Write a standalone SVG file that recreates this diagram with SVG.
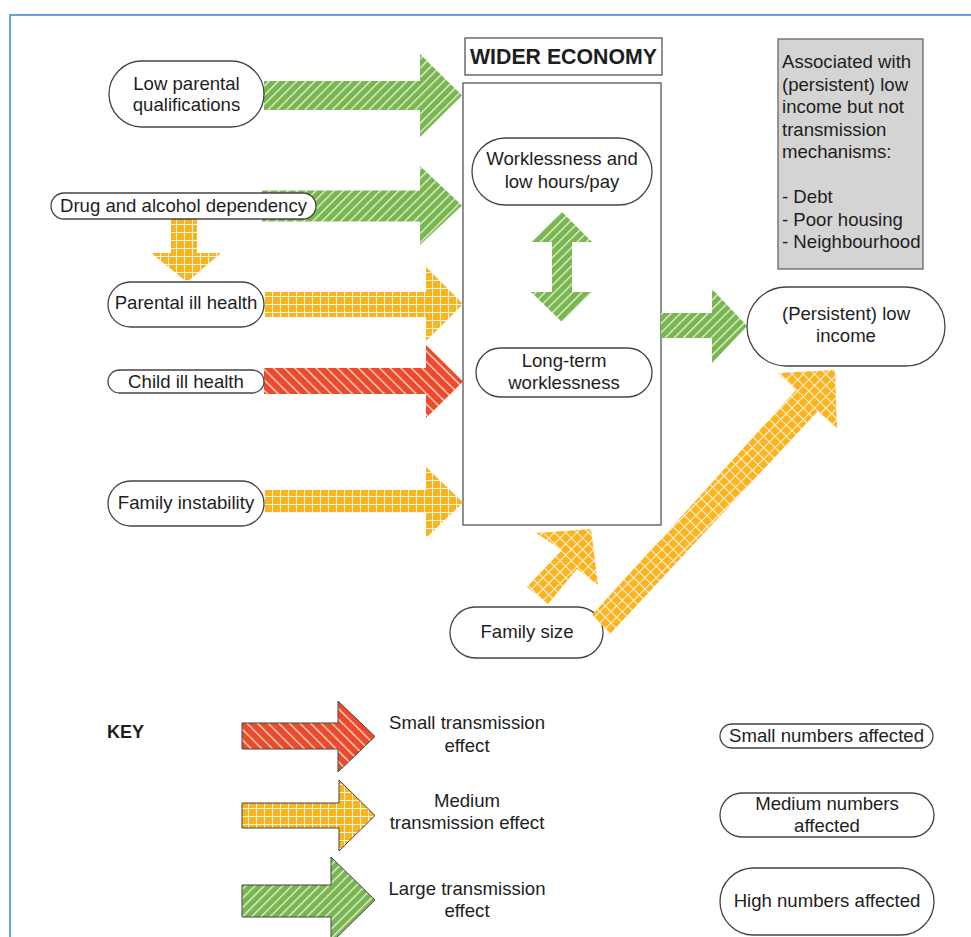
<svg xmlns="http://www.w3.org/2000/svg" width="971" height="937" viewBox="0 0 971 937">
<style>
text{font-family:"Liberation Sans",Arial,sans-serif;font-size:18.6px;fill:#1e1e1e}
.c{text-anchor:middle}
.b{font-weight:bold}
.nd{fill:#fff;stroke:#444;stroke-width:1.3}
.key{stroke:#444;stroke-width:1}
</style>
<defs>
<pattern id="pg" width="6.5" height="6.5" patternUnits="userSpaceOnUse" patternTransform="rotate(45)"><rect width="6.5" height="6.5" fill="#7ab650"/><rect width="1.3" height="6.5" fill="#e6f2dc"/></pattern>
<pattern id="pr" width="7.5" height="7.5" patternUnits="userSpaceOnUse" patternTransform="rotate(-45)"><rect width="7.5" height="7.5" fill="#ec4a2a"/><rect width="1.3" height="7.5" fill="#fbe3dc"/></pattern>
<pattern id="po" width="8" height="8" patternUnits="userSpaceOnUse"><rect width="8" height="8" fill="#fbb31f"/><path d="M0 0.5H8M0.5 0V8" stroke="#fff6e0" stroke-width="1.1"/></pattern>
<pattern id="pod" width="8" height="8" patternUnits="userSpaceOnUse" patternTransform="rotate(45)"><rect width="8" height="8" fill="#fbb31f"/><path d="M0 0.5H8M0.5 0V8" stroke="#fff6e0" stroke-width="1.1"/></pattern>
</defs>
<rect width="971" height="937" fill="#fff"/>
<path d="M10 937V15H971" fill="none" stroke="#6f9fd8" stroke-width="2"/>

<g id="wider-economy-box">
<rect x="463" y="83" width="198" height="442" fill="#fff" stroke="#555" stroke-width="1.3"/>
</g>
<g id="wider-economy-title">
<rect x="465" y="38" width="197" height="37" fill="#fff" stroke="#555" stroke-width="1.3"/>
<text class="c b" x="563.5" y="64" style="font-size:21.3px">WIDER ECONOMY</text>
</g>
<g id="family-size">
<rect class="nd" x="450" y="607" width="153" height="51" rx="25.5"/>
<text class="c" x="527" y="638">Family size</text>
</g>

<g id="connectors">
<polygon fill="url(#pg)" points="264,81 420,81 420,54 462,95.5 420,137 420,110 264,110"/>
<polygon fill="url(#pg)" points="262,190.5 420,190.5 420,166 462,205.5 420,245 420,221.5 262,221.5"/>
<polygon fill="url(#po)" points="171,218 197,218 197,253 221,253 187,282 151,253 171,253"/>
<polygon fill="url(#po)" points="264,292 426,292 426,267 463,304 426,341 426,317 264,317"/>
<polygon fill="url(#pr)" points="264,368 426,368 426,345 463,381.5 426,418 426,394 264,394"/>
<polygon fill="url(#po)" points="264,490 426,490 426,467 463,502.5 426,538 426,513 264,513"/>
<polygon fill="url(#pg)" points="562,212 592,242 572,242 572,292 592,292 562,322 531,292 552,292 552,242 531,242"/>
<polygon fill="url(#pg)" points="661,313 712,313 712,289 747,326 712,363 712,338 661,338"/>
<polygon fill="url(#pod)" points="527,587 562,550 536,533 591,529 598,585 577,569 548,604"/>
<polygon fill="url(#pod)" points="592,615 796,390 778,373 835,370 837,428 818,411 610,634"/>
</g>

<g id="low-parental-qualifications">
<rect class="nd" x="109" y="61" width="155" height="66" rx="33"/>
<text class="c" x="186.5" y="89.5">Low parental</text>
<text class="c" x="186.5" y="111">qualifications</text>
</g>
<g id="drug-alcohol">
<rect class="nd" x="51" y="193" width="265" height="26" rx="13"/>
<text class="c" x="183.5" y="212">Drug and alcohol dependency</text>
</g>
<g id="parental-ill-health">
<rect class="nd" x="108" y="282" width="156" height="45" rx="22.5"/>
<text class="c" x="186" y="309">Parental ill health</text>
</g>
<g id="child-ill-health">
<rect class="nd" x="108" y="370" width="156" height="23" rx="11.5"/>
<text class="c" x="186" y="387.5">Child ill health</text>
</g>
<g id="family-instability">
<rect class="nd" x="108" y="481" width="156" height="45" rx="22.5"/>
<text class="c" x="186" y="509">Family instability</text>
</g>
<g id="worklessness-low-pay">
<rect class="nd" x="472" y="138" width="180" height="67" rx="33.5"/>
<text class="c" x="562" y="165">Worklessness and</text>
<text class="c" x="562" y="188">low hours/pay</text>
</g>
<g id="long-term-worklessness">
<rect class="nd" x="476" y="348" width="176" height="49" rx="24.5"/>
<text class="c" x="564" y="367">Long-term</text>
<text class="c" x="564" y="389">worklessness</text>
</g>
<g id="persistent-low-income">
<rect class="nd" x="747" y="287" width="198" height="79" rx="39.5"/>
<text class="c" x="846" y="320">(Persistent) low</text>
<text class="c" x="846" y="342">income</text>
</g>
<g id="associated-box">
<rect x="778" y="39" width="145" height="230" fill="#d4d4d4" stroke="#666" stroke-width="1.3"/>
<text x="782" y="68">Associated with</text>
<text x="782" y="91">(persistent) low</text>
<text x="782" y="113">income but not</text>
<text x="782" y="136">transmission</text>
<text x="782" y="158">mechanisms:</text>
<text x="782" y="203">- Debt</text>
<text x="782" y="226">- Poor housing</text>
<text x="782" y="248">- Neighbourhood</text>
</g>

<g id="key">
<text class="b" x="107" y="738" style="font-size:18px">KEY</text>
<polygon class="key" fill="url(#pr)" points="242,723 338,723 338,701 375,736.5 338,772 338,749 242,749"/>
<polygon class="key" fill="url(#po)" points="242,803 339,803 339,780 375,815.5 339,851 339,828 242,828"/>
<polygon class="key" fill="url(#pg)" points="242,885 331,885 331,857 375,900 331,943 331,917 242,917"/>
<text class="c" x="467" y="729">Small transmission</text>
<text class="c" x="467" y="752">effect</text>
<text class="c" x="467" y="807">Medium</text>
<text class="c" x="467" y="829">transmission effect</text>
<text class="c" x="467" y="895">Large transmission</text>
<text class="c" x="467" y="917">effect</text>
</g>
<g id="key-small-numbers">
<rect class="nd" x="720" y="724" width="213" height="24" rx="12"/>
<text class="c" x="826.5" y="741.5">Small numbers affected</text>
</g>
<g id="key-medium-numbers">
<rect class="nd" x="720" y="793" width="214" height="44" rx="22"/>
<text class="c" x="827" y="810">Medium numbers</text>
<text class="c" x="827" y="832">affected</text>
</g>
<g id="key-high-numbers">
<rect class="nd" x="720" y="868" width="214" height="67" rx="33.5"/>
<text class="c" x="827" y="907">High numbers affected</text>
</g>
</svg>
